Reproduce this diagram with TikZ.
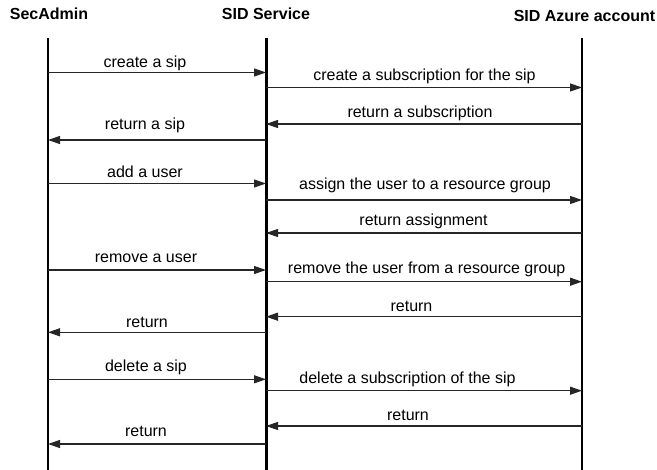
\documentclass[tikz,border=0pt]{standalone}
\usepackage{fontspec}
\setmainfont{Liberation Sans}
\usetikzlibrary{arrows.meta}
\begin{document}
\begin{tikzpicture}[x=1pt,y=-1pt,
  lifeline/.style={line width=2.8pt, draw=black},
  msg/.style={line width=1.2pt, draw=black!85, -{Triangle[length=12pt,width=8pt]}},
  lbl/.style={anchor=base, inner sep=0pt, font=\fontsize{16}{19}\selectfont},
  hdr/.style={anchor=base, inner sep=0pt, font=\fontsize{16}{19}\selectfont\bfseries}]
\useasboundingbox (0,0) rectangle (657,470);
% headers
\node[hdr] (sa) at (49,20) {SecAdmin};
\node[hdr] (ss) at (266,20) {SID Service};
\node[hdr] (az) at (584.5,21.7) {SID Azure account};
% lifelines
\coordinate (saT) at (48,38);  \coordinate (saB) at (48,470);
\coordinate (ssT) at (266.5,38); \coordinate (ssB) at (266.5,470);
\coordinate (azT) at (582,38); \coordinate (azB) at (582,470);
\draw[lifeline] (saT) -- (saB);
\draw[lifeline] (ssT) -- (ssB);
\draw[lifeline] (azT) -- (azB);
% messages
\foreach \i/\xa/\xb/\y/\t/\lx/\ly in {
  1/48/266/72.5/{create a sip}/145/68,
  2/266/582/87.5/{create a subscription for the sip}/424.5/81,
  3/582/266/124/{return a subscription}/420/117.3,
  4/266/48/140/{return a sip}/145/129.3,
  5/48/266/183.5/{add a user}/145/177.3,
  6/266/582/200/{assign the user to a resource group}/425/190,
  7/582/266/233/{return assignment}/423.5/226,
  8/48/266/270/{remove a user}/146/262.7,
  9/266/582/281.7/{remove the user from a resource group}/426.7/274,
  10/582/266/316.7/{return}/411.5/311.7,
  11/266/48/332.3/{return}/147/327.3,
  12/48/266/379.3/{delete a sip}/146/371.7,
  13/266/582/390.7/{delete a subscription of the sip}/407.5/384,
  14/582/266/426/{return}/408/420.7,
  15/266/48/444/{return}/146/436.7}{
  \coordinate (m\i s) at (\xa,\y);
  \coordinate (m\i e) at (\xb,\y);
  \draw[msg] (m\i s) -- (m\i e);
  \node[lbl] (l\i) at (\lx,\ly) {\t};
}
\end{tikzpicture}
\end{document}
